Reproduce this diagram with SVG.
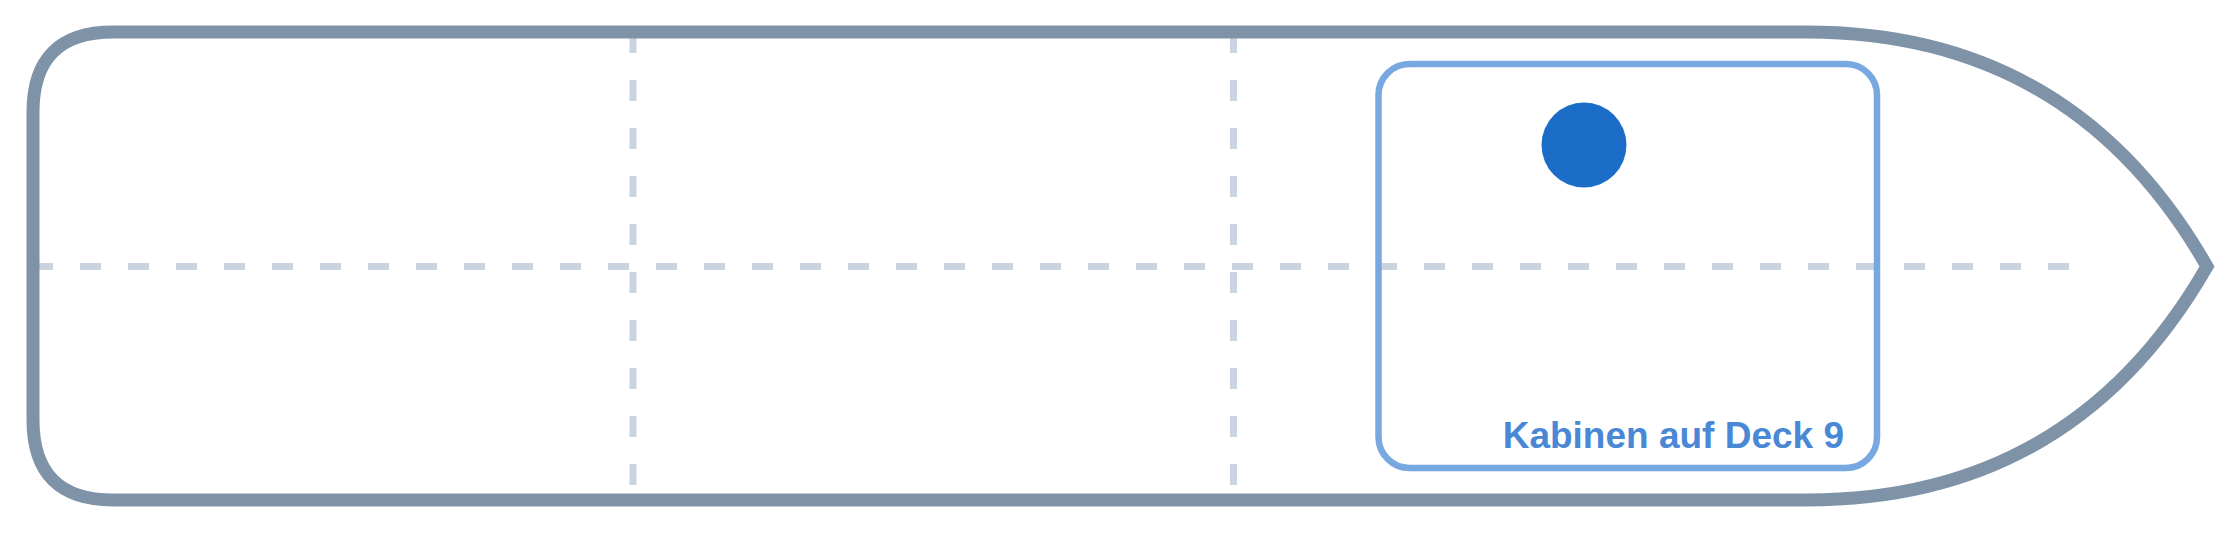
<svg xmlns="http://www.w3.org/2000/svg" width="2240" height="533" viewBox="0 0 2240 533">
  <style>
    .grid { stroke: #c9d4e0; stroke-width: 7; stroke-dasharray: 21 27; fill: none; }
    .hull { fill: none; stroke: #7f93a8; stroke-width: 13; stroke-linejoin: miter; stroke-miterlimit: 10; }
    .zone { fill: none; stroke: #78a8e0; stroke-width: 6.5; }
    .marker { fill: #1c6dc8; }
    .label { font-family: "Liberation Sans", Arial, sans-serif; font-weight: bold; font-size: 37px; fill: #4a88d6; }
  </style>
  <rect width="2240" height="533" fill="#ffffff"/>
  <g id="grid">
    <line class="grid" x1="32" y1="266.5" x2="2072" y2="266.5"/>
    <line class="grid" x1="633" y1="32" x2="633" y2="500"/>
    <line class="grid" x1="1233.5" y1="32" x2="1233.5" y2="500"/>
  </g>
  <g id="hull">
    <path class="hull" d="M 113 32 L 1807 32 Q 2073 32 2207 266.5 Q 2073 500 1807 500 L 113 500 Q 33 500 33 420 L 33 112 Q 33 32 113 32 Z"/>
  </g>
  <g id="cabin-zone">
    <rect class="zone" x="1378.5" y="64" width="498.5" height="404" rx="31" ry="31"/>
    <text class="label" x="1844" y="448" text-anchor="end">Kabinen auf Deck 9</text>
  </g>
  <g id="cabin-marker">
    <circle class="marker" cx="1584" cy="145" r="42.5"/>
  </g>
</svg>
